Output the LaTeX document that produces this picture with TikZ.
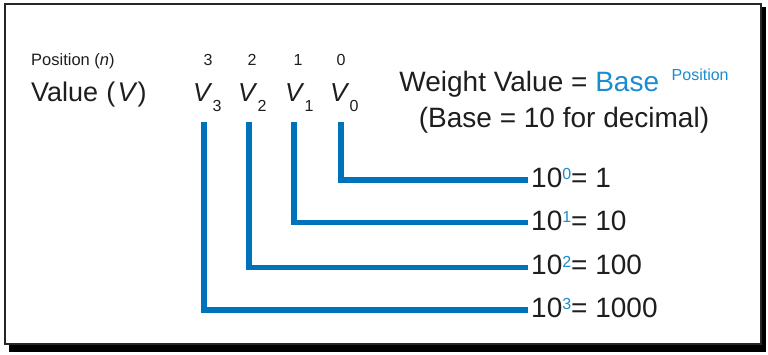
\documentclass[tikz,border=0pt]{standalone}
\usepackage{fontspec}
\setmainfont{Liberation Sans}
\newcommand\fsz[1]{\fontsize{#1}{#1}\selectfont}
\definecolor{lblue}{RGB}{0,114,188}
\definecolor{tblue}{RGB}{27,140,206}
\definecolor{ink}{RGB}{30,30,30}
\begin{document}
\begin{tikzpicture}[x=1pt,y=-1pt,
  txt/.style={inner sep=0pt, text=ink},
  lbl/.style={anchor=base west, inner sep=3pt, text=ink, font=\fsz{28}},
  conn/.style={draw=lblue, line width=5.5pt, line join=miter},
  digit/.style={anchor=base, inner sep=0pt, text=ink, font=\fsz{16}},
  vnode/.style={anchor=base west, inner sep=0pt, text=ink, font=\fsz{26}}]
\useasboundingbox (0,0) rectangle (768,354);
% frame with shadow
\fill[black] (9,7) rectangle (766,352);
\draw[fill=white, draw=black!85, line width=1.5pt] (5,4) rectangle (761,344);
% headings
\node[txt, anchor=base west, font=\fsz{16.5}] (pos) at (31,65.7) {Position (\textit{n})};
\node[txt, anchor=base west, font=\fsz{27}] (val) at (31,101.7) {Value\hspace{0.3em}(\hspace{0.08em}\textit{V})};
% position digits
\node[digit] (n3) at (208,65.7) {3};
\node[digit] (n2) at (252,65.7) {2};
\node[digit] (n1) at (298,65.7) {1};
\node[digit] (n0) at (341,65.7) {0};
% V nodes
\node[vnode] (v3) at (193,101.7) {\textit{V}\raisebox{-10pt}{\fsz{16}3}};
\node[vnode] (v2) at (238,101.7) {\textit{V}\raisebox{-10pt}{\fsz{16}2}};
\node[vnode] (v1) at (285,101.7) {\textit{V}\raisebox{-10pt}{\fsz{16}1}};
\node[vnode] (v0) at (330,101.7) {\textit{V}\raisebox{-10pt}{\fsz{16}0}};
% weight formula
\node[txt, anchor=base, font=\fsz{28}] (w1) at (564,91.7) {Weight Value = \textcolor{tblue}{Base\hspace{0.45em}\raisebox{11pt}{\fsz{16}Position}}};
\node[txt, anchor=base, font=\fsz{28}] (w2) at (564,127.3) {(Base = 10 for decimal)};
% labels
\node[lbl] (l0) at (528,187.3) {10\textcolor{tblue}{\raisebox{7.5pt}{\fsz{16}0}}= 1};
\node[lbl] (l1) at (528,230.0) {10\textcolor{tblue}{\raisebox{7.5pt}{\fsz{16}1}}= 10};
\node[lbl] (l2) at (528,274.6) {10\textcolor{tblue}{\raisebox{7.5pt}{\fsz{16}2}}= 100};
\node[lbl] (l3) at (528,317.3) {10\textcolor{tblue}{\raisebox{7.5pt}{\fsz{16}3}}= 1000};
% connector start points
\coordinate (t3) at (204,122);
\coordinate (t2) at (249,122);
\coordinate (t1) at (294,122);
\coordinate (t0) at (341,122);
\draw[conn] (t0) |- ([yshift=7.3pt]l0.base west);
\draw[conn] (t1) |- ([yshift=7.3pt]l1.base west);
\draw[conn] (t2) |- ([yshift=7.3pt]l2.base west);
\draw[conn] (t3) |- ([yshift=7.3pt]l3.base west);
\end{tikzpicture}
\end{document}
